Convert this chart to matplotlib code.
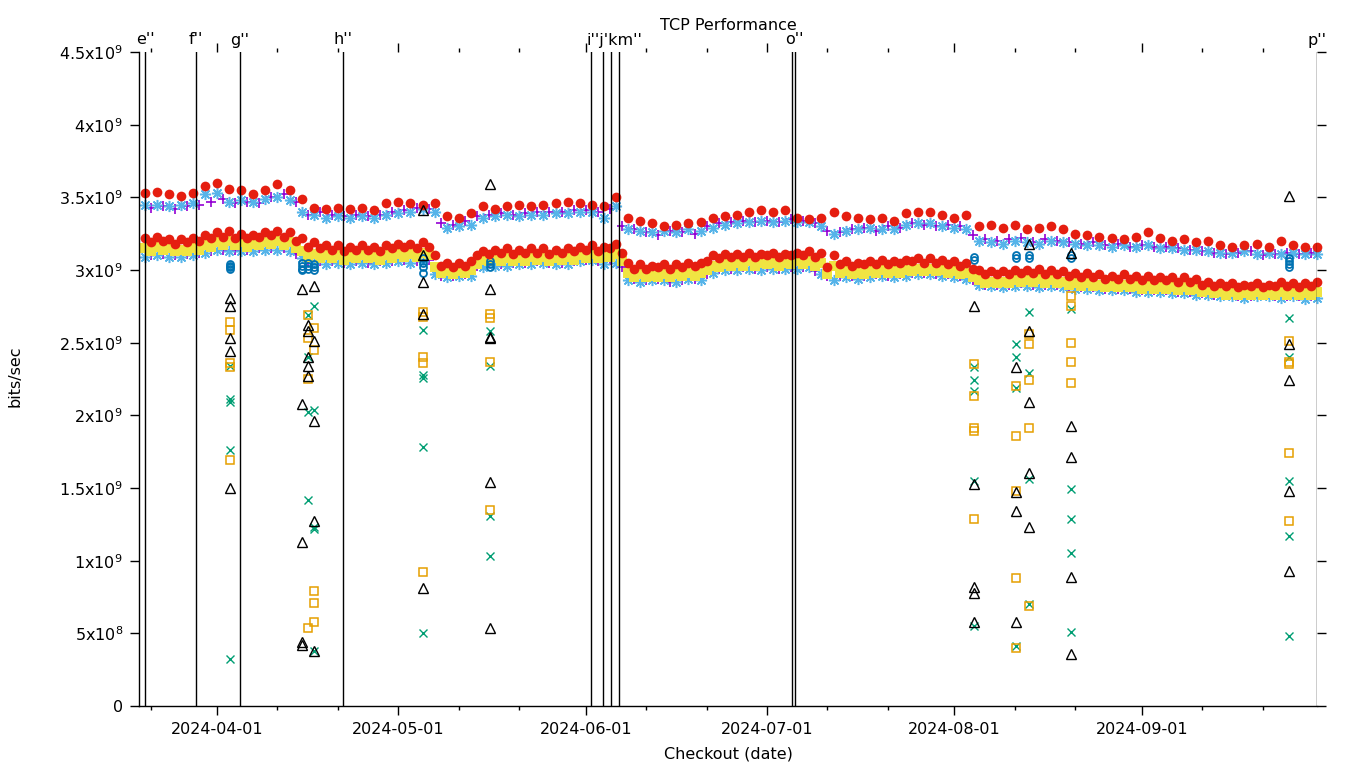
import numpy as np
import pandas as pd
import matplotlib
matplotlib.use('Agg')
import matplotlib.pyplot as plt
import matplotlib.transforms as mtransforms

plt.rcParams['font.family'] = ['DejaVu Sans']
plt.rcParams['mathtext.fontset'] = 'dejavusans'

# ---------------- data (values in units of 1e9 bits/sec) ----------------
even_dates = pd.date_range('2024-03-20', periods=98, freq='2D')
odd_dates = pd.date_range('2024-03-21', periods=97, freq='2D')

red_up = [3.53, 3.54, 3.52, 3.51, 3.53, 3.58, 3.60, 3.56, 3.55, 3.52,
          3.55, 3.59, 3.55, 3.49, 3.43, 3.42, 3.43, 3.42, 3.43, 3.41,
          3.46, 3.47, 3.46, 3.45, 3.46, 3.37, 3.36, 3.39, 3.44, 3.42,
          3.44, 3.45, 3.44, 3.45, 3.46, 3.47, 3.46, 3.45, 3.44, 3.50,
          3.36, 3.34, 3.32, 3.30, 3.31, 3.32, 3.33, 3.36, 3.37, 3.38,
          3.40, 3.41, 3.40, 3.41, 3.36, 3.35, 3.36, 3.40, 3.37, 3.36,
          3.35, 3.36, 3.34, 3.39, 3.40, 3.40, 3.38, 3.36, 3.38, 3.30,
          3.31, 3.29, 3.31, 3.28, 3.29, 3.30, 3.28, 3.25, 3.24, 3.23,
          3.22, 3.21, 3.23, 3.26, 3.22, 3.20, 3.21, 3.19, 3.20, 3.17,
          3.16, 3.17, 3.18, 3.16, 3.20, 3.17, 3.16, 3.16]

red_lo_a = [3.22, 3.23, 3.21, 3.21, 3.22, 3.24, 3.26, 3.27, 3.25, 3.24,
            3.26, 3.27, 3.26, 3.22, 3.19, 3.17, 3.17, 3.16, 3.17, 3.16,
            3.17, 3.18, 3.18, 3.19, 3.10, 3.05, 3.05, 3.06, 3.13, 3.14,
            3.15, 3.14, 3.15, 3.15, 3.14, 3.15, 3.16, 3.17, 3.16, 3.18,
            3.05, 3.04, 3.03, 3.04, 3.04, 3.05, 3.05, 3.10, 3.11, 3.11,
            3.12, 3.11, 3.12, 3.11, 3.12, 3.13, 3.12, 3.10, 3.06, 3.05,
            3.06, 3.07, 3.06, 3.07, 3.08, 3.08, 3.07, 3.06, 3.05, 3.00,
            2.99, 2.99, 3.00, 3.00, 3.01, 3.00, 2.99, 2.98, 2.98, 2.97,
            2.96, 2.97, 2.96, 2.96, 2.95, 2.95, 2.95, 2.94, 2.92, 2.91,
            2.91, 2.90, 2.91, 2.90, 2.92, 2.91, 2.91, 2.92]

red_lo_b = [3.19, 3.20, 3.18, 3.19, 3.20, 3.22, 3.23, 3.22, 3.22, 3.23,
            3.24, 3.23, 3.20, 3.16, 3.15, 3.14, 3.13, 3.14, 3.14, 3.13,
            3.15, 3.16, 3.15, 3.16, 3.03, 3.02, 3.03, 3.10, 3.11, 3.12,
            3.11, 3.12, 3.12, 3.11, 3.12, 3.13, 3.14, 3.13, 3.15, 3.12,
            3.01, 3.01, 3.02, 3.01, 3.02, 3.03, 3.06, 3.08, 3.09, 3.09,
            3.09, 3.10, 3.09, 3.10, 3.10, 3.09, 3.02, 3.04, 3.03, 3.04,
            3.04, 3.04, 3.05, 3.06, 3.05, 3.05, 3.04, 3.03, 3.01, 2.97,
            2.97, 2.97, 2.98, 2.98, 2.97, 2.97, 2.96, 2.95, 2.95, 2.94,
            2.94, 2.94, 2.93, 2.93, 2.93, 2.92, 2.92, 2.90, 2.89, 2.89,
            2.88, 2.89, 2.88, 2.89, 2.89, 2.88, 2.89]

yel_a = [3.15, 3.16, 3.15, 3.14, 3.15, 3.17, 3.19, 3.20, 3.19, 3.18,
         3.19, 3.20, 3.19, 3.13, 3.11, 3.10, 3.10, 3.09, 3.10, 3.09,
         3.10, 3.11, 3.11, 3.12, 3.02, 2.99, 2.99, 3.00, 3.07, 3.08,
         3.08, 3.08, 3.09, 3.09, 3.08, 3.09, 3.10, 3.11, 3.09, 3.11,
         2.98, 2.97, 2.96, 2.97, 2.97, 2.98, 2.98, 3.03, 3.04, 3.05,
         3.06, 3.05, 3.05, 3.05, 3.06, 3.06, 3.05, 3.03, 2.99, 2.98,
         2.99, 3.00, 2.99, 3.00, 3.01, 3.01, 3.00, 2.99, 2.98, 2.93,
         2.92, 2.92, 2.93, 2.93, 2.94, 2.93, 2.92, 2.91, 2.91, 2.90,
         2.89, 2.90, 2.89, 2.89, 2.88, 2.88, 2.88, 2.87, 2.86, 2.85,
         2.85, 2.84, 2.85, 2.84, 2.85, 2.85, 2.84, 2.85]

yel_b = [3.13, 3.14, 3.13, 3.13, 3.14, 3.16, 3.17, 3.17, 3.16, 3.17,
         3.18, 3.17, 3.15, 3.09, 3.08, 3.08, 3.07, 3.08, 3.08, 3.07,
         3.08, 3.09, 3.09, 3.10, 2.98, 2.97, 2.98, 3.04, 3.06, 3.06,
         3.06, 3.06, 3.07, 3.06, 3.07, 3.07, 3.08, 3.08, 3.09, 3.06,
         2.95, 2.95, 2.95, 2.95, 2.96, 2.96, 3.00, 3.02, 3.03, 3.03,
         3.03, 3.04, 3.03, 3.04, 3.04, 3.03, 2.97, 2.98, 2.97, 2.97,
         2.98, 2.98, 2.98, 2.99, 2.99, 2.99, 2.98, 2.97, 2.95, 2.91,
         2.91, 2.91, 2.92, 2.92, 2.91, 2.91, 2.90, 2.89, 2.89, 2.88,
         2.88, 2.88, 2.87, 2.87, 2.87, 2.86, 2.86, 2.85, 2.84, 2.83,
         2.83, 2.83, 2.83, 2.83, 2.83, 2.83, 2.83]

blu_lo = [3.09, 3.10, 3.09, 3.09, 3.10, 3.12, 3.14, 3.13, 3.13, 3.13,
          3.14, 3.14, 3.13, 3.08, 3.05, 3.04, 3.05, 3.04, 3.05, 3.04,
          3.05, 3.06, 3.05, 3.06, 2.97, 2.95, 2.96, 2.96, 3.02, 3.03,
          3.03, 3.04, 3.04, 3.05, 3.04, 3.04, 3.06, 3.07, 3.04, 3.05,
          2.93, 2.92, 2.93, 2.93, 2.92, 2.94, 2.93, 2.98, 3.00, 3.00,
          3.01, 3.00, 3.01, 3.01, 3.01, 3.02, 2.97, 2.93, 2.95, 2.94,
          2.95, 2.96, 2.95, 2.96, 2.97, 2.97, 2.96, 2.95, 2.94, 2.90,
          2.89, 2.88, 2.89, 2.89, 2.88, 2.89, 2.88, 2.87, 2.87, 2.86,
          2.86, 2.86, 2.85, 2.85, 2.85, 2.84, 2.84, 2.83, 2.83, 2.82,
          2.82, 2.81, 2.82, 2.82, 2.81, 2.82, 2.80, 2.81]

pur_lo = [3.10, 3.11, 3.10, 3.11, 3.12, 3.13, 3.14, 3.14, 3.14, 3.15,
          3.15, 3.15, 3.11, 3.06, 3.06, 3.06, 3.05, 3.06, 3.05, 3.06,
          3.06, 3.07, 3.06, 3.07, 2.96, 2.96, 2.97, 3.03, 3.05, 3.04,
          3.05, 3.05, 3.06, 3.05, 3.05, 3.06, 3.07, 3.06, 3.07, 3.02,
          2.94, 2.93, 2.94, 2.92, 2.93, 2.94, 2.97, 3.01, 3.01, 3.02,
          3.01, 3.02, 3.01, 3.02, 3.02, 2.99, 2.96, 2.96, 2.96, 2.96,
          2.97, 2.96, 2.97, 2.98, 2.98, 2.97, 2.97, 2.96, 2.93, 2.90,
          2.90, 2.90, 2.91, 2.90, 2.90, 2.90, 2.89, 2.88, 2.88, 2.87,
          2.87, 2.87, 2.86, 2.86, 2.86, 2.85, 2.85, 2.84, 2.83, 2.83,
          2.82, 2.82, 2.83, 2.82, 2.82, 2.82, 2.82]

blu_up = [3.45, 3.45, 3.44, 3.45, 3.46, 3.52, 3.53, 3.47, 3.48, 3.47,
          3.49, 3.50, 3.48, 3.40, 3.38, 3.36, 3.37, 3.36, 3.37, 3.36,
          3.38, 3.39, 3.40, 3.42, 3.40, 3.29, 3.30, 3.31, 3.36, 3.37,
          3.38, 3.37, 3.38, 3.38, 3.39, 3.39, 3.40, 3.40, 3.36, 3.44,
          3.28, 3.27, 3.26, 3.27, 3.26, 3.28, 3.27, 3.29, 3.31, 3.32,
          3.33, 3.34, 3.33, 3.34, 3.33, 3.33, 3.30, 3.25, 3.27, 3.28,
          3.29, 3.28, 3.28, 3.31, 3.32, 3.32, 3.30, 3.29, 3.28, 3.20,
          3.19, 3.18, 3.20, 3.19, 3.18, 3.20, 3.19, 3.18, 3.17, 3.17,
          3.16, 3.17, 3.16, 3.17, 3.15, 3.15, 3.14, 3.14, 3.13, 3.12,
          3.12, 3.13, 3.11, 3.12, 3.11, 3.12, 3.11, 3.11]

pur_up = [3.43, 3.44, 3.42, 3.44, 3.45, 3.47, 3.49, 3.46, 3.47, 3.46,
          3.50, 3.52, 3.47, 3.38, 3.40, 3.38, 3.37, 3.38, 3.37, 3.38,
          3.40, 3.41, 3.43, 3.42, 3.32, 3.31, 3.34, 3.37, 3.38, 3.39,
          3.38, 3.39, 3.40, 3.40, 3.40, 3.41, 3.41, 3.40, 3.42, 3.30,
          3.28, 3.26, 3.24, 3.27, 3.26, 3.25, 3.30, 3.32, 3.33, 3.34,
          3.33, 3.34, 3.33, 3.35, 3.34, 3.32, 3.27, 3.26, 3.28, 3.29,
          3.27, 3.30, 3.29, 3.32, 3.31, 3.30, 3.31, 3.30, 3.24, 3.21,
          3.20, 3.21, 3.22, 3.19, 3.21, 3.20, 3.19, 3.18, 3.19, 3.17,
          3.18, 3.16, 3.17, 3.16, 3.16, 3.15, 3.14, 3.13, 3.12, 3.11,
          3.12, 3.13, 3.10, 3.11, 3.12, 3.11, 3.12]

# outlier test runs (date of run -> values)
green_x = {
    '2024-04-03 04:00': [2.34, 2.11, 2.09, 1.76, 0.32],
    '2024-04-16 01:00': [2.69, 2.40, 2.02, 1.42],
    '2024-04-17 01:00': [2.75, 2.04, 1.23, 1.22, 0.38],
    '2024-05-05 02:00': [2.59, 2.28, 2.26, 1.78, 0.50],
    '2024-05-16 04:00': [2.58, 2.34, 1.31, 1.03],
    '2024-08-04 05:00': [2.33, 2.24, 2.17, 1.55, 0.55],
    '2024-08-11 04:00': [2.49, 2.40, 2.19, 0.41],
    '2024-08-13 07:00': [2.71, 2.29, 1.56, 0.70],
    '2024-08-20 06:00': [2.73, 1.49, 1.29, 1.05, 0.51],
    '2024-09-25 07:00': [2.67, 2.40, 1.55, 1.17, 0.48],
}
orange_sq = {
    '2024-04-03 04:00': [2.64, 2.59, 2.36, 2.33, 1.69],
    '2024-04-16 01:00': [2.69, 2.53, 2.25, 0.54],
    '2024-04-17 01:00': [2.60, 2.45, 0.79, 0.71, 0.58],
    '2024-05-05 02:00': [2.71, 2.68, 2.40, 2.36, 0.92],
    '2024-05-16 04:00': [2.70, 2.67, 2.37, 1.35],
    '2024-08-04 05:00': [2.35, 2.13, 1.91, 1.89, 1.29],
    '2024-08-11 04:00': [2.20, 1.86, 1.48, 0.88, 0.40],
    '2024-08-13 07:00': [2.56, 2.49, 2.24, 1.91, 0.69],
    '2024-08-20 06:00': [2.82, 2.75, 2.50, 2.37, 2.22],
    '2024-09-25 07:00': [2.51, 2.37, 2.35, 1.74, 1.27],
}
black_tri = {
    '2024-04-03 04:00': [2.81, 2.75, 2.53, 2.44, 1.50],
    '2024-04-15 01:00': [2.87, 2.08, 1.13, 0.44, 0.42],
    '2024-04-16 01:00': [2.62, 2.58, 2.40, 2.34, 2.27],
    '2024-04-17 01:00': [2.89, 2.51, 1.96, 1.27, 0.38],
    '2024-05-05 02:00': [3.41, 3.10, 2.92, 2.70, 0.81],
    '2024-05-16 04:00': [3.59, 2.87, 2.54, 2.53, 1.54, 0.54],
    '2024-08-04 05:00': [2.75, 1.53, 0.82, 0.78, 0.58],
    '2024-08-11 04:00': [2.33, 1.47, 1.34, 0.58],
    '2024-08-13 07:00': [3.18, 2.58, 2.09, 1.60, 1.23],
    '2024-08-20 06:00': [3.12, 1.93, 1.71, 0.89, 0.36],
    '2024-09-25 07:00': [3.51, 2.49, 2.24, 1.48, 0.93],
}
blue_circ = {
    '2024-04-03 04:00': [3.04, 3.03, 3.02, 3.01],
    '2024-04-15 01:00': [3.05, 3.03, 3.01, 3.00],
    '2024-04-16 01:00': [3.05, 3.03, 3.01],
    '2024-04-17 01:00': [3.04, 3.02, 3.00],
    '2024-05-05 02:00': [3.08, 3.05, 3.02, 2.98],
    '2024-05-16 04:00': [3.06, 3.04, 3.02],
    '2024-08-04 05:00': [3.09, 3.07],
    '2024-08-11 04:00': [3.10, 3.08],
    '2024-08-13 07:00': [3.10, 3.08],
    '2024-08-20 06:00': [3.10, 3.08],
    '2024-09-25 07:00': [3.08, 3.06, 3.04, 3.02],
}

event_dates = ['2024-03-20 02:00', '2024-03-28 13:00', '2024-04-04 19:00',
               '2024-04-21 20:00', '2024-06-01 21:00', '2024-06-03 20:00',
               '2024-06-05 04:00', '2024-06-06 12:00', '2024-07-05 02:00',
               '2024-07-05 14:00', '2024-09-29 23:00']
# labels of closely spaced events are written as one run of text
event_labels = ["e''", "f''", "g''", "h''", "i''j'km''", "", "", "", "", "o''", "p''"]

month_ticks = ['2024-04-01', '2024-05-01', '2024-06-01', '2024-07-01',
               '2024-08-01', '2024-09-01']
minor_ticks = ['2024-03-21', '2024-04-11', '2024-04-21', '2024-05-11', '2024-05-21',
               '2024-06-11', '2024-06-21', '2024-07-11', '2024-07-21',
               '2024-08-11', '2024-08-21', '2024-09-11', '2024-09-21']

y_ticks = [0, 0.5, 1.0, 1.5, 2.0, 2.5, 3.0, 3.5, 4.0, 4.5]
y_tick_labels = ['0', '5x10$^{8}$', '1x10$^{9}$', '1.5x10$^{9}$', '2x10$^{9}$',
                 '2.5x10$^{9}$', '3x10$^{9}$', '3.5x10$^{9}$', '4x10$^{9}$',
                 '4.5x10$^{9}$']

assert len(red_up) == 98 and len(red_lo_a) == 98 and len(yel_a) == 98
assert len(blu_lo) == 98 and len(blu_up) == 98
assert len(red_lo_b) == 97 and len(yel_b) == 97 and len(pur_lo) == 97 and len(pur_up) == 97

SCALE = 1e9


def flat(d):
    xs, ys = [], []
    for k, vals in d.items():
        for v in vals:
            xs.append(pd.Timestamp(k))
            ys.append(v * SCALE)
    return xs, ys


# ---------------- figure ----------------
fig = plt.figure(figsize=(13.6, 7.68), dpi=100)
ax = fig.add_axes([139 / 1360, 62 / 768, 1178 / 1360, 654 / 768])

C_PUR = '#9400D3'
C_GRN = '#009E73'
C_LBL = '#56B4E9'
C_ORG = '#E69F00'
C_YEL = '#F0E442'
C_BLU = '#0072B2'
C_RED = '#E51E10'

kw = dict(linestyle='none', clip_on=False)
asterisk = (8, 2, 0)

# 1 purple +
ax.plot(odd_dates, np.array(pur_up) * SCALE, marker='+', ms=7.5, mew=1.2, color=C_PUR, **kw)
ax.plot(odd_dates, np.array(pur_lo) * SCALE, marker='+', ms=7.5, mew=1.2, color=C_PUR, **kw)
# 2 green x
gx, gy = flat(green_x)
ax.plot(gx, gy, marker='x', ms=6, mew=1.0, color=C_GRN, **kw)
# 3 light blue *
ax.plot(even_dates, np.array(blu_up) * SCALE, marker=asterisk, ms=8, mew=1.1, color=C_LBL, **kw)
ax.plot(even_dates, np.array(blu_lo) * SCALE, marker=asterisk, ms=8, mew=1.1, color=C_LBL, **kw)
# 4 orange open square
ox, oy = flat(orange_sq)
ax.plot(ox, oy, marker='s', ms=6, mew=1.1, mfc='none', color=C_ORG, **kw)
# 5 yellow filled square
ax.plot(even_dates, np.array(yel_a) * SCALE, marker='s', ms=7.5, mew=0, color=C_YEL, **kw)
ax.plot(odd_dates, np.array(yel_b) * SCALE, marker='s', ms=7.5, mew=0, color=C_YEL, **kw)
# 6 blue open circle
bx, by = flat(blue_circ)
ax.plot(bx, by, marker='o', ms=5, mew=1.3, mfc='none', color=C_BLU, **kw)
# 7 red filled circle
ax.plot(even_dates, np.array(red_up) * SCALE, marker='o', ms=7, mew=0, color=C_RED, **kw)
ax.plot(even_dates, np.array(red_lo_a) * SCALE, marker='o', ms=7, mew=0, color=C_RED, **kw)
ax.plot(odd_dates, np.array(red_lo_b) * SCALE, marker='o', ms=7, mew=0, color=C_RED, **kw)
# 8 black open triangle
tx, ty = flat(black_tri)
ax.plot(tx, ty, marker='^', ms=7, mew=1.0, mfc='none', color='black', **kw)

# event lines and labels
trans = mtransforms.blended_transform_factory(ax.transData, fig.transFigure)
offset = mtransforms.ScaledTranslation(-5 / 100, 0, fig.dpi_scale_trans)
for d, lab in zip(event_dates, event_labels):
    t = pd.Timestamp(d)
    ax.axvline(t, color='black', lw=1.0, zorder=5)
    if lab:
        if len(lab) > 4:
            ax.text(t, 1 - 40 / 768, lab, transform=trans + offset, ha='left',
                    va='center', fontsize=11.5, color='black')
        else:
            ax.text(t, 1 - 40 / 768, lab, transform=trans, ha='center',
                    va='center', fontsize=11.5, color='black')

ax.set_xlim(pd.Timestamp('2024-03-19 02:00'), pd.Timestamp('2024-09-30 00:00'))
ax.set_ylim(0, 4.5e9)

ax.set_xticks([pd.Timestamp(m) for m in month_ticks])
ax.set_xticklabels(month_ticks)
ax.set_xticks([pd.Timestamp(m) for m in minor_ticks], minor=True)
ax.set_yticks([v * SCALE for v in y_ticks])
ax.set_yticklabels(y_tick_labels)

ax.tick_params(axis='both', which='major', direction='out', length=6.5, width=1,
               top=True, right=True, labelsize=11.5, labelcolor='black')
ax.tick_params(axis='x', which='major', pad=5)
ax.tick_params(axis='y', which='major', pad=5)
ax.tick_params(axis='x', which='minor', direction='out', length=3, width=1,
               top=True, bottom=True)

for s in ['top', 'right']:
    ax.spines[s].set_visible(False)
for s in ['left', 'bottom']:
    ax.spines[s].set_linewidth(1.0)

fig.text(728 / 1360, 1 - 25 / 768, 'TCP Performance', ha='center', va='center',
         fontsize=11.5, color='black')
fig.text(728 / 1360, 1 - 754 / 768, 'Checkout (date)', ha='center', va='center',
         fontsize=11.5, color='black')
fig.text(15 / 1360, 1 - 376 / 768, 'bits/sec', ha='center', va='center',
         rotation=90, fontsize=11.5, color='black')

fig.savefig('out.png', dpi=100)
